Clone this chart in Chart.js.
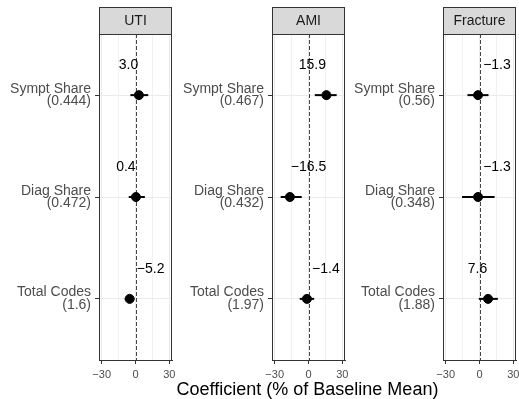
<!DOCTYPE html>
<html>
<head>
<meta charset="utf-8">
<script src="https://cdn.jsdelivr.net/npm/chart.js@4.4.1/dist/chart.umd.min.js"></script>
<style>
  html, body { margin: 0; padding: 0; background: #fff; overflow: hidden; }
  #wrap { position: relative; width: 519px; height: 399px; }
  canvas { position: absolute; top: 0; }
  #xtitle {
    position: absolute; left: 99px; width: 417px; top: 379px;
    text-align: center; font: 18px 'Liberation Sans', Arial, sans-serif;
    line-height: 20px; color: #000;
  }
</style>
</head>
<body>
<div id="wrap">
  <canvas id="c0" width="180" height="399" style="left:0px"></canvas>
  <canvas id="c1" width="180" height="399" style="left:173px"></canvas>
  <canvas id="c2" width="180" height="399" style="left:344px"></canvas>
  <div id="xtitle">Coefficient (% of Baseline Mean)</div>
</div>
<script>
// facet panels and outcome rows
const panels = ['UTI', 'AMI', 'Fracture'];
const outcomes = ['Sympt Share', 'Diag Share', 'Total Codes'];

// baseline means shown under each row label
const baseUTI = ['0.444', '0.472', '1.6'];
const baseAMI = ['0.467', '0.432', '1.97'];
const baseFracture = ['0.56', '0.348', '1.88'];

// point estimates
const coefUTI = [3.0, 0.4, -5.2];
const coefAMI = [15.9, -16.5, -1.4];
const coefFracture = [-1.3, -1.3, 7.6];

// confidence intervals
const lowUTI = [-4.5, -6, -9.5];
const highUTI = [11.3, 8.3, -1];
const lowAMI = [5.6, -24.7, -7.8];
const highAMI = [25, -6, 5];
const lowFracture = [-10.7, -15.5, -0.6];
const highFracture = [8, 13.4, 16.3];

// where the value labels sit (x, data units)
const labelXUTI = [-6.2, -8.5, 13.4];
const labelXAMI = [3.4, 0, 15.4];
const labelXFracture = [15.5, 15.5, -1.8];

const xTicks = [-30, -15, 0, 15, 30];

const FONT = "'Liberation Sans', Arial, sans-serif";

function fmt(v) {
    const s = Math.abs(v).toFixed(1);
    return v < 0 ? '\u2212' + s : s;
}

function makePanel(id, name, base, coef, low, high, labelX) {
    const ctx = document.getElementById(id).getContext('2d');

    const facetPlugin = {
        id: 'facet',
        beforeDatasetsDraw(chart) {
            const c = chart.ctx;
            const xs = chart.scales.x, ys = chart.scales.y;
            const a = chart.chartArea;
            // dashed zero line
            c.save();
            c.strokeStyle = '#444444';
            c.lineWidth = 1;
            c.setLineDash([4, 2]);
            const x0 = Math.round(xs.getPixelForValue(0)) + 0.5;
            c.beginPath();
            c.moveTo(x0, a.top);
            c.lineTo(x0, a.bottom);
            c.stroke();
            c.restore();
            // error bars
            c.save();
            c.strokeStyle = '#000';
            c.lineWidth = 2;
            for (let i = 0; i < coef.length; i++) {
                const y = ys.getPixelForValue(i + 1);
                c.beginPath();
                c.moveTo(xs.getPixelForValue(low[i]), y);
                c.lineTo(xs.getPixelForValue(high[i]), y);
                c.stroke();
            }
            c.restore();
        },
        afterDraw(chart) {
            const c = chart.ctx;
            const xs = chart.scales.x, ys = chart.scales.y;
            const a = chart.chartArea;
            c.save();
            // value labels
            c.fillStyle = '#000';
            c.font = '14px ' + FONT;
            c.textAlign = 'center';
            c.textBaseline = 'middle';
            for (let i = 0; i < coef.length; i++) {
                c.fillText(fmt(coef[i]), xs.getPixelForValue(labelX[i]), ys.getPixelForValue(i + 1 - 0.295));
            }
            // panel border
            c.strokeStyle = '#333333';
            c.lineWidth = 1;
            c.strokeRect(Math.round(a.left) + 0.5, Math.round(a.top) + 0.5,
                Math.round(a.right - a.left) - 1, Math.round(a.bottom - a.top));
            // strip
            c.fillStyle = '#D9D9D9';
            c.fillRect(Math.round(a.left) + 0.5, 7.5, Math.round(a.right - a.left) - 1, a.top - 7.5);
            c.strokeRect(Math.round(a.left) + 0.5, 7.5, Math.round(a.right - a.left) - 1, Math.round(a.top) - 7);
            c.fillStyle = '#1A1A1A';
            c.font = '14px ' + FONT;
            c.fillText(name, (a.left + a.right) / 2, 21);
            c.restore();
        }
    };

    return new Chart(ctx, {
        type: 'scatter',
        data: {
            datasets: [{
                data: coef.map((v, i) => ({ x: v, y: i + 1 })),
                backgroundColor: '#000',
                borderColor: '#000',
                pointRadius: 4.5,
                pointHoverRadius: 4.5
            }]
        },
        options: {
            responsive: false,
            animation: false,
            devicePixelRatio: 1,
            layout: { padding: { top: 34, bottom: 19, left: 0, right: 8 } },
            plugins: { legend: { display: false }, tooltip: { enabled: false } },
            scales: {
                x: {
                    type: 'linear',
                    min: -32.4,
                    max: 32.4,
                    afterBuildTicks: s => { s.ticks = xTicks.map(v => ({ value: v })); },
                    afterFit: s => { s.height = 20; s.paddingLeft = 0; s.paddingRight = 0; },
                    ticks: {
                        autoSkip: false,
                        maxRotation: 0,
                        padding: 4,
                        color: '#4D4D4D',
                        font: { family: FONT, size: 11 },
                        callback: v => (v % 30 === 0 ? (v < 0 ? '\u2212' + Math.abs(v) : String(v)) : '')
                    },
                    grid: {
                        color: '#EBEBEB',
                        lineWidth: c => (c.tick && c.tick.value % 30 !== 0 ? 0.7 : 1),
                        tickColor: c => (c.tick && c.tick.value % 30 === 0 ? '#333333' : 'rgba(0,0,0,0)'),
                        tickLength: 4
                    },
                    border: { color: '#333333' }
                },
                y: {
                    type: 'linear',
                    reverse: true,
                    min: 0.4,
                    max: 3.6,
                    afterBuildTicks: s => { s.ticks = outcomes.map((o, i) => ({ value: i + 1 })); },
                    afterFit: s => { s.width = 99; },
                    ticks: {
                        autoSkip: false,
                        padding: 4,
                        color: '#4D4D4D',
                        font: { family: FONT, size: 14, lineHeight: 0.9 },
                        callback: (v, i) => [outcomes[i], '(' + base[i] + ')']
                    },
                    grid: {
                        color: '#EBEBEB',
                        tickColor: '#333333',
                        tickLength: 4
                    },
                    border: { color: '#333333' }
                }
            }
        },
        plugins: [facetPlugin]
    });
}

makePanel('c0', panels[0], baseUTI, coefUTI, lowUTI, highUTI, labelXUTI);
makePanel('c1', panels[1], baseAMI, coefAMI, lowAMI, highAMI, labelXAMI);
makePanel('c2', panels[2], baseFracture, coefFracture, lowFracture, highFracture, labelXFracture);
</script>
</body>
</html>
